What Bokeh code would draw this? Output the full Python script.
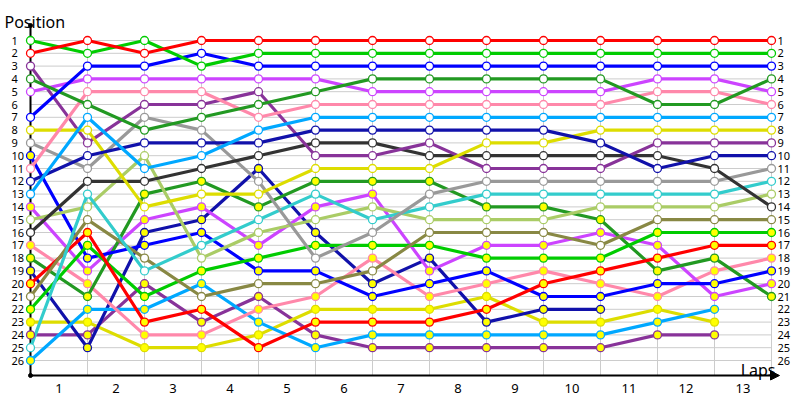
from bokeh.plotting import figure
from bokeh.models import Range1d, Arrow, NormalHead
from bokeh.core.properties import value
from bokeh.embed import file_html
from bokeh.resources import INLINE

# ---------------- data ----------------
laps = list(range(14))                      # 0 = grid, 1..13 = laps
lap_labels = [str(i) for i in range(1, 14)]
position_labels = [str(i) for i in range(1, 27)]

# first group (white markers)
red_a = [2, 1, 2, 1, 1, 1, 1, 1, 1, 1, 1, 1, 1, 1]
green_a = [1, 2, 1, 3, 2, 2, 2, 2, 2, 2, 2, 2, 2, 2]
blue_a = [7, 3, 3, 2, 3, 3, 3, 3, 3, 3, 3, 3, 3, 3]
dkgreen_a = [4, 6, 8, 7, 6, 5, 4, 4, 4, 4, 4, 6, 6, 4]
violet_a = [5, 4, 4, 4, 4, 4, 5, 5, 5, 5, 5, 4, 4, 5]
pink_a = [11, 5, 5, 5, 7, 6, 6, 6, 6, 6, 6, 5, 5, 6]
ltblue_a = [13, 7, 11, 10, 8, 7, 7, 7, 7, 7, 7, 7, 7, 7]
navy_a = [12, 10, 9, 9, 9, 8, 8, 8, 8, 8, 9, 11, 10, 10]
yellow_a = [8, 8, 14, 13, 13, 11, 11, 11, 9, 9, 8, 8, 8, 8]
purple_a = [3, 9, 6, 6, 5, 10, 10, 9, 11, 11, 11, 9, 9, 9]
dkgray_a = [16, 12, 12, 11, 10, 9, 9, 10, 10, 10, 10, 10, 11, 14]
gray_a = [9, 11, 7, 8, 12, 18, 16, 13, 12, 12, 12, 12, 12, 11]
cyan_a = [25, 13, 19, 17, 15, 13, 15, 14, 13, 13, 13, 13, 13, 12]
ltgreen_a = [15, 14, 10, 18, 16, 15, 14, 15, 15, 15, 14, 14, 14, 13]
olive_a = [21, 15, 18, 21, 20, 20, 19, 16, 16, 16, 17, 15, 15, 15]
# second group (yellow markers)
red_b = [20, 16, 23, 22, 25, 23, 23, 23, 22, 20, 19, 18, 17, 17]
green_b = [22, 17, 21, 19, 18, 17, 17, 17, 18, 18, 18, 16, 16, 16]
blue_b = [10, 18, 17, 16, 19, 19, 21, 20, 19, 21, 21, 20, 20, 19]
dkgreen_b = [18, 21, 13, 12, 14, 12, 12, 12, 14, 14, 15, 19, 18, 21]
violet_b = [14, 19, 15, 14, 17, 14, 13, 19, 17, 17, 16, 17, 21, 20]
pink_b = [17, 20, 24, 24, 22, 21, 18, 21, 20, 19, 20, 21, 19, 18]
ltblue_b = [26, 22, 22, 20, 23, 25, 24, 24, 24, 24, 24, 23, 22]
navy_b = [19, 25, 16, 15, 11, 16, 20, 18, 23, 22, 22]
yellow_b = [23, 23, 25, 25, 24, 22, 22, 22, 21, 23, 23, 22, 23]
purple_b = [24, 24, 20, 23, 21, 24, 25, 25, 25, 25, 25, 24, 24]

# ---------------- styles ----------------
C = {
    "red": "#ff0000", "green": "#00cc00", "blue": "#0000ff", "dkgreen": "#229922",
    "violet": "#cc44ff", "pink": "#ff88aa", "ltblue": "#00a8ff", "navy": "#1111aa",
    "yellow": "#dddd00", "purple": "#883399", "dkgray": "#333333", "gray": "#999999",
    "cyan": "#33cccc", "ltgreen": "#aacc66", "olive": "#888844",
}
group_a = [("red", red_a), ("green", green_a), ("blue", blue_a), ("dkgreen", dkgreen_a),
           ("violet", violet_a), ("pink", pink_a), ("ltblue", ltblue_a), ("navy", navy_a),
           ("yellow", yellow_a), ("purple", purple_a), ("dkgray", dkgray_a), ("gray", gray_a),
           ("cyan", cyan_a), ("ltgreen", ltgreen_a), ("olive", olive_a)]
group_b = [("red", red_b), ("green", green_b), ("blue", blue_b), ("dkgreen", dkgreen_b),
           ("violet", violet_b), ("pink", pink_b), ("ltblue", ltblue_b), ("navy", navy_b),
           ("yellow", yellow_b), ("purple", purple_b)]

# pixel layout helpers (decorations only)
X0, DX = 30.0, 57.0
Y0, DY = 40.0, 12.8
def xd(px): return (px - X0) / DX
def yd(py): return 1 + (py - Y0) / DY

p = figure(width=800, height=400, x_range=Range1d(xd(0), xd(800)),
           y_range=Range1d(yd(400), yd(0)), min_border=0,
           toolbar_location=None, output_backend="svg",
           x_axis_type=None, y_axis_type=None)
p.outline_line_color = None
p.grid.visible = False
p.background_fill_color = "white"

n_pos = len(position_labels)
pos_vals = list(range(1, n_pos + 1))
axis_y = yd(375)

# grid
p.segment(x0=[laps[0]] * n_pos, x1=[laps[-1]] * n_pos, y0=pos_vals, y1=pos_vals,
          line_color="#cccccc", line_width=1)
p.segment(x0=laps[1:], x1=laps[1:], y0=[1] * (len(laps) - 1), y1=[axis_y] * (len(laps) - 1),
          line_color="#cccccc", line_width=1)

# axes
p.segment(x0=[0], x1=[0], y0=[yd(25)], y1=[axis_y], line_color="black", line_width=2)
p.add_layout(Arrow(end=NormalHead(size=9, fill_color="black", line_color="black"),
                   x_start=0, y_start=axis_y, x_end=xd(779), y_end=axis_y,
                   line_color="black", line_width=2))
p.scatter(x=[0, 0], y=[yd(25), axis_y], size=4, color="black")

# lines
for grp in (group_b, group_a):
    for name, pos in reversed(grp):
        p.line(laps[:len(pos)], pos, line_color=C[name], line_width=3.2, line_join="round")

for grp, fill in ((group_b, "#ffff00"), (group_a, "white")):
    for name, pos in reversed(grp):
        p.scatter(laps[:len(pos)], pos, size=8, fill_color=fill, line_color=C[name],
                  line_width=1.3)

font = value("Noto Sans")
# position labels left and right
p.text(x=[xd(11)] * n_pos, y=pos_vals, text=position_labels, text_font=font,
       text_font_size="11px", text_align="left", text_baseline="middle", text_color="black")
p.text(x=[xd(777)] * n_pos, y=pos_vals, text=position_labels, text_font=font,
       text_font_size="11px", text_align="left", text_baseline="middle", text_color="black")
# lap labels
p.text(x=[l - 0.5 for l in laps[1:]], y=[yd(388)] * len(lap_labels), text=lap_labels,
       text_font=font, text_font_size="13px", text_align="center", text_baseline="middle",
       text_color="black")
p.text(x=[xd(4)], y=[yd(21)], text=["Position"], text_font=font, text_font_size="16px",
       text_align="left", text_baseline="alphabetic", text_color="black")
p.text(x=[xd(775)], y=[yd(369)], text=["Laps"], text_font=font, text_font_size="16px",
       text_align="right", text_baseline="alphabetic", text_color="black")

open("out.html", "w").write(file_html(p, INLINE))
